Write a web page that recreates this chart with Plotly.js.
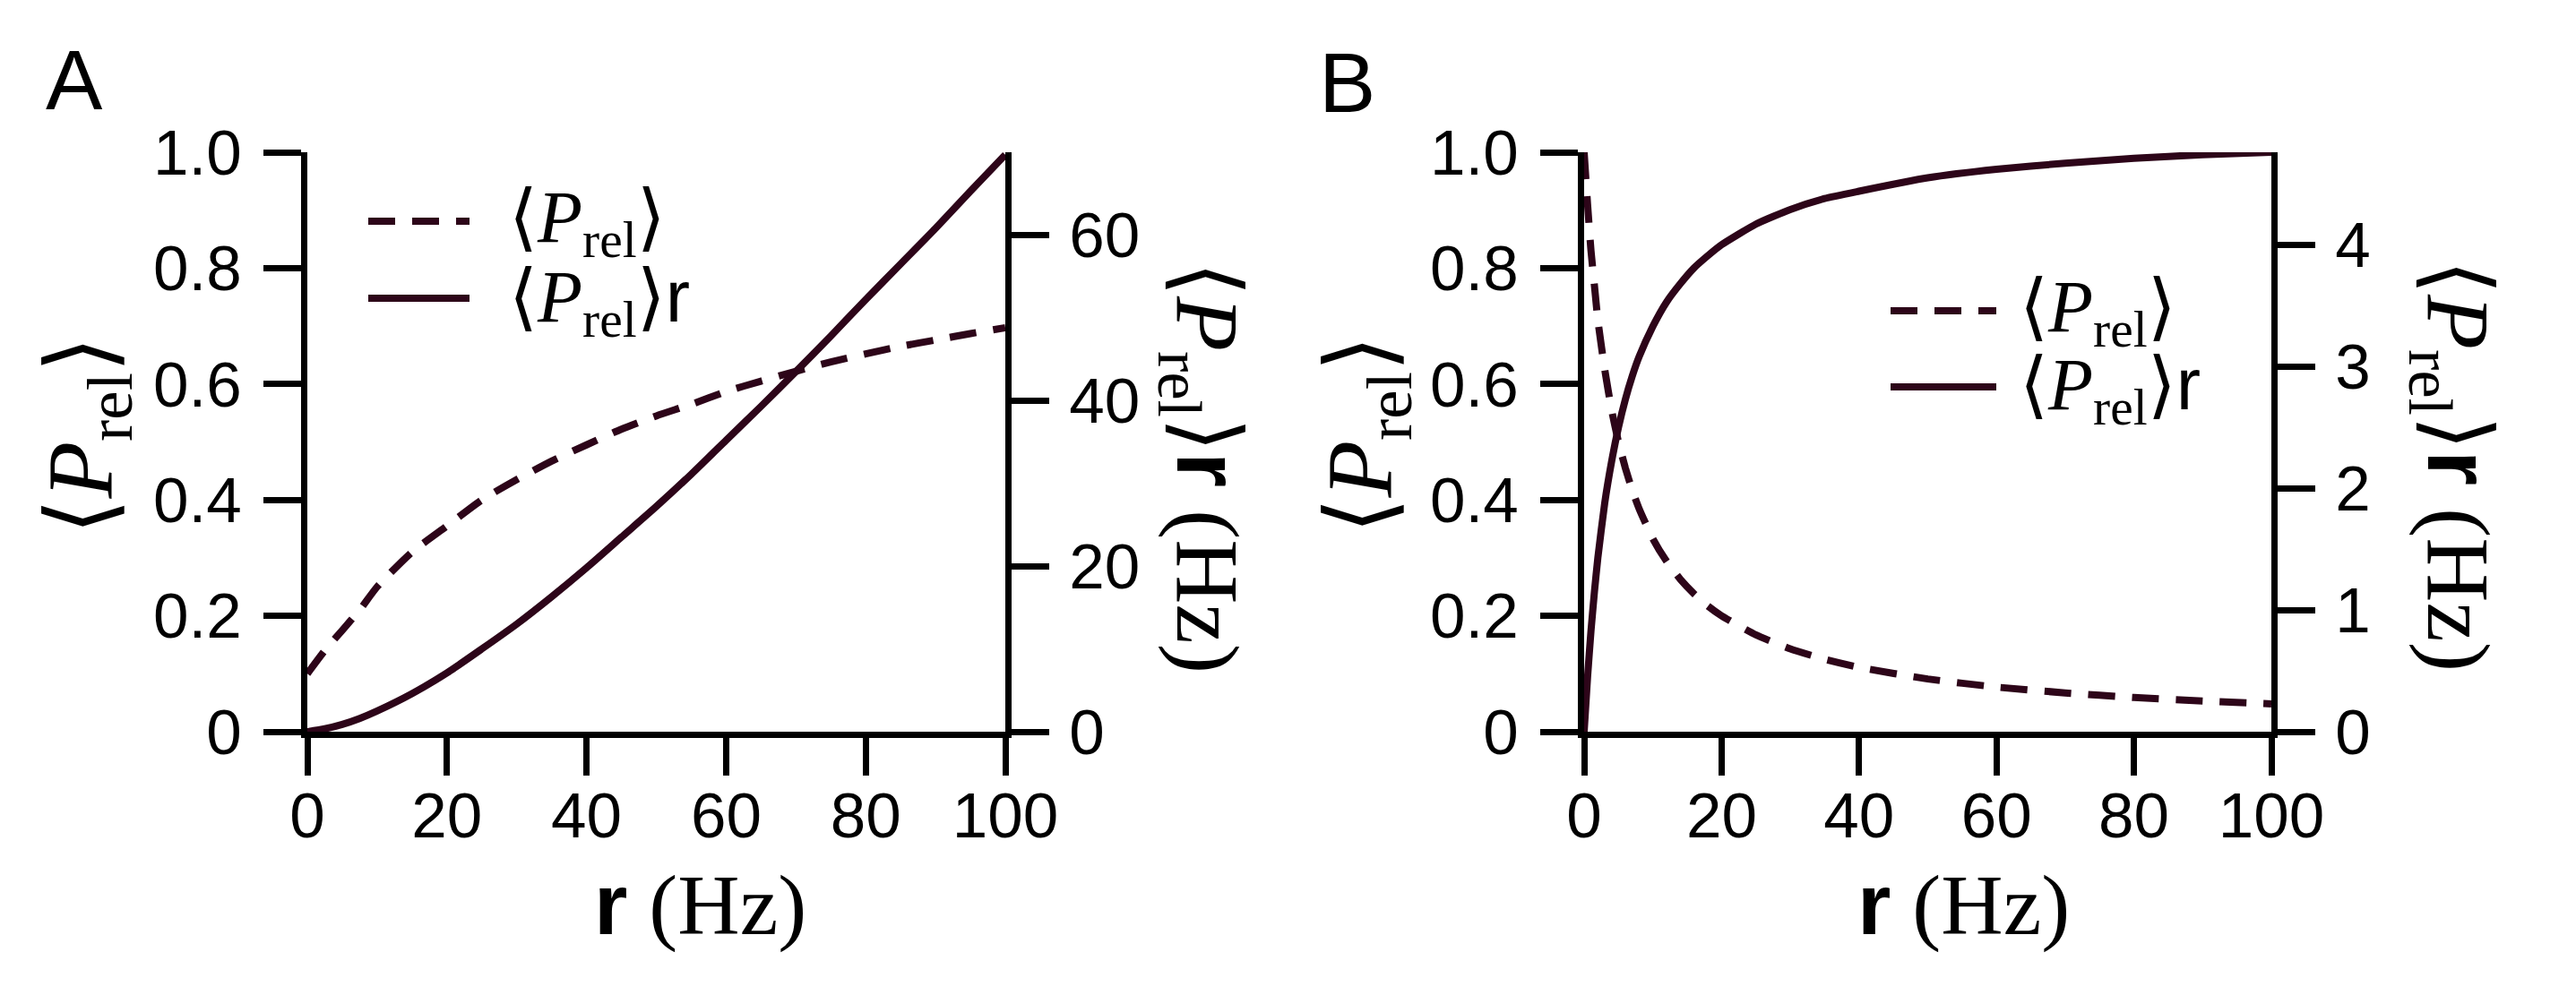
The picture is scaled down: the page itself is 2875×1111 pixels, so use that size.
<!DOCTYPE html>
<html>
<head>
<meta charset="utf-8">
<script src="https://cdn.plot.ly/plotly-3.0.1.min.js"></script>
<style>html,body{margin:0;padding:0;background:#fff;}#chart{width:2875px;height:1111px;}</style>
</head>
<body>
<div id="chart"></div>
<script>
// ---- Data ----
// Panel A
var rA   = [0, 2.5, 5, 7.5, 10, 15, 20, 25, 30, 35, 40, 45, 50, 55, 60, 65, 70, 75, 80, 85, 90, 95, 100];
var pA   = [0.10, 0.14, 0.175, 0.21, 0.25, 0.31, 0.355, 0.40, 0.435, 0.467, 0.495, 0.522, 0.545, 0.565, 0.587, 0.605, 0.622, 0.638, 0.652, 0.665, 0.676, 0.687, 0.697];
var prA  = [0, 0.35, 0.88, 1.6, 2.5, 4.6, 7.1, 10.0, 13.0, 16.3, 19.8, 23.5, 27.2, 31.1, 35.2, 39.3, 43.5, 47.8, 52.2, 56.5, 60.8, 65.3, 69.7];
// Panel B
var rB   = [0, 0.5, 1, 1.5, 2, 3, 4, 5, 6, 7, 8, 10, 12, 14, 16, 18, 20, 25, 30, 35, 40, 50, 60, 70, 80, 90, 100];
var pB   = [1.0, 0.91, 0.83, 0.77, 0.71, 0.625, 0.555, 0.50, 0.455, 0.417, 0.385, 0.333, 0.294, 0.263, 0.238, 0.217, 0.20, 0.167, 0.143, 0.125, 0.111, 0.091, 0.077, 0.067, 0.059, 0.053, 0.048];
var prB  = [0, 0.45, 0.83, 1.15, 1.43, 1.88, 2.22, 2.50, 2.73, 2.92, 3.08, 3.33, 3.53, 3.68, 3.81, 3.91, 4.0, 4.17, 4.29, 4.38, 4.44, 4.55, 4.62, 4.67, 4.71, 4.74, 4.76];

// Tick labels
var xTicks      = [0, 20, 40, 60, 80, 100];
var yLeftVals   = [0, 0.2, 0.4, 0.6, 0.8, 1.0];
var yLeftText   = ["0", "0.2", "0.4", "0.6", "0.8", "1.0"];
var yRightAVals = [0, 20, 40, 60];
var yRightBVals = [0, 1, 2, 3, 4];
var rightMaxA = 70;
var rightMaxB = 4.76;

// Text
var labelP   = '⟨<i>P</i><sub>rel</sub>⟩';
var labelPr  = '⟨<i>P</i><sub>rel</sub>⟩<span style="font-family:Liberation Sans">r</span>';
var yRightTitle = '⟨<i>P</i><sub>rel</sub>⟩<span style="font-family:Liberation Sans"><b>r</b></span> (Hz)';
var xTitle = '<span style="font-family:Liberation Sans"><b>r</b></span> (Hz)';

// ---- Styling ----
var W = 2875, H = 1111;
var curveColor = '#2d0519';
var LW = 8;
var AW = 7;
var dashStyle = '30px,19px';
function px(x){ return x / W; }
function py(y){ return 1 - y / H; }

var domA = [px(343), px(1122)];
var domB = [px(1768), px(2535)];
var domY = [py(817), py(170)];

var tickFont = {family: 'Liberation Sans, Arial, sans-serif', size: 71, color: '#000'};
function xAxis(dom, anchor){
  return {domain: dom, anchor: anchor, range: [0, 100], tickvals: xTicks,
    showline: true, linecolor: '#000', linewidth: AW, ticks: 'outside', ticklen: 42,
    tickwidth: AW, tickcolor: '#000', showgrid: false, zeroline: false,
    tickfont: tickFont, automargin: false, fixedrange: true, ticklabelstandoff: -16};
}
function yAxis(anchor, range, vals, text, side, overlay, standoff){
  var a = {domain: domY, anchor: anchor, range: range, tickvals: vals,
    showline: true, linecolor: '#000', linewidth: AW, ticks: 'outside', ticklen: 42,
    tickwidth: AW, tickcolor: '#000', showgrid: false, zeroline: false,
    tickfont: tickFont, automargin: false, side: side, fixedrange: true,
    ticklabelstandoff: standoff};
  if (text) a.ticktext = text;
  if (overlay) a.overlaying = overlay;
  return a;
}

var traces = [
  {x: rA, y: pA,  xaxis: 'x',  yaxis: 'y',  mode: 'lines', line: {color: curveColor, width: LW, dash: dashStyle, shape: 'spline', smoothing: 0.6}, showlegend: false},
  {x: rA, y: prA, xaxis: 'x',  yaxis: 'y2', mode: 'lines', line: {color: curveColor, width: LW, shape: 'spline', smoothing: 0.6}, showlegend: false},
  {x: rB, y: pB,  xaxis: 'x2', yaxis: 'y3', mode: 'lines', line: {color: curveColor, width: LW, dash: dashStyle, shape: 'spline', smoothing: 0.5}, showlegend: false},
  {x: rB, y: prB, xaxis: 'x2', yaxis: 'y4', mode: 'lines', line: {color: curveColor, width: LW, shape: 'spline', smoothing: 0.5}, showlegend: false}
];

var serif = 'Liberation Serif, DejaVu Serif, serif';
var sans = 'Liberation Sans, Arial, sans-serif';
function ann(text, x, y, size, angle, family, xanchor){
  return {text: text, xref: 'paper', yref: 'paper', x: px(x), y: py(y), showarrow: false,
    textangle: angle || 0, xanchor: xanchor || 'center', yanchor: 'middle',
    font: {family: family || serif, size: size, color: '#000'}};
}

var annotations = [
  ann('A', 83, 89, 95, 0, sans),
  ann('B', 1503, 92, 95, 0, sans),
  // left titles
  ann(labelP, 98, 487, 104, -90),
  ann(labelP, 1525, 486, 104, -90),
  // right titles
  ann(yRightTitle, 1342, 522, 100, 90),
  ann(yRightTitle, 2738, 520, 100, 90),
  // x titles
  ann(xTitle, 781, 1010, 96, 0),
  ann(xTitle, 2191, 1010, 96, 0),
  // legend A
  ann(labelP,  566, 248, 82, 0, serif, 'left'),
  ann(labelPr, 566, 336, 82, 0, serif, 'left'),
  // legend B
  ann(labelP,  2252, 348, 82, 0, serif, 'left'),
  ann(labelPr, 2252, 435, 82, 0, serif, 'left')
];

function legLine(x0, x1, y, dash){
  return {type: 'line', xref: 'paper', yref: 'paper', x0: px(x0), x1: px(x1), y0: py(y), y1: py(y),
    line: {color: curveColor, width: LW, dash: dash || 'solid'}};
}
var shapes = [
  legLine(411, 524, 247, dashStyle),
  legLine(411, 524, 333),
  legLine(2110, 2228, 347, dashStyle),
  legLine(2110, 2228, 432)
];

var layout = {
  width: W, height: H,
  margin: {l: 0, r: 0, t: 0, b: 0, pad: 0},
  paper_bgcolor: '#fff', plot_bgcolor: '#fff',
  showlegend: false,
  xaxis:  xAxis(domA, 'y'),
  xaxis2: xAxis(domB, 'y3'),
  yaxis:  yAxis('x',  [0, 1], yLeftVals, yLeftText, 'left', null, 10),
  yaxis2: yAxis('x',  [0, rightMaxA], yRightAVals, null, 'right', 'y', 8),
  yaxis3: yAxis('x2', [0, 1], yLeftVals, yLeftText, 'left', null, 10),
  yaxis4: yAxis('x2', [0, rightMaxB], yRightBVals, null, 'right', 'y3', 8),
  annotations: annotations,
  shapes: shapes
};

Plotly.newPlot('chart', traces, layout, {staticPlot: true, displayModeBar: false});
</script>
</body>
</html>
